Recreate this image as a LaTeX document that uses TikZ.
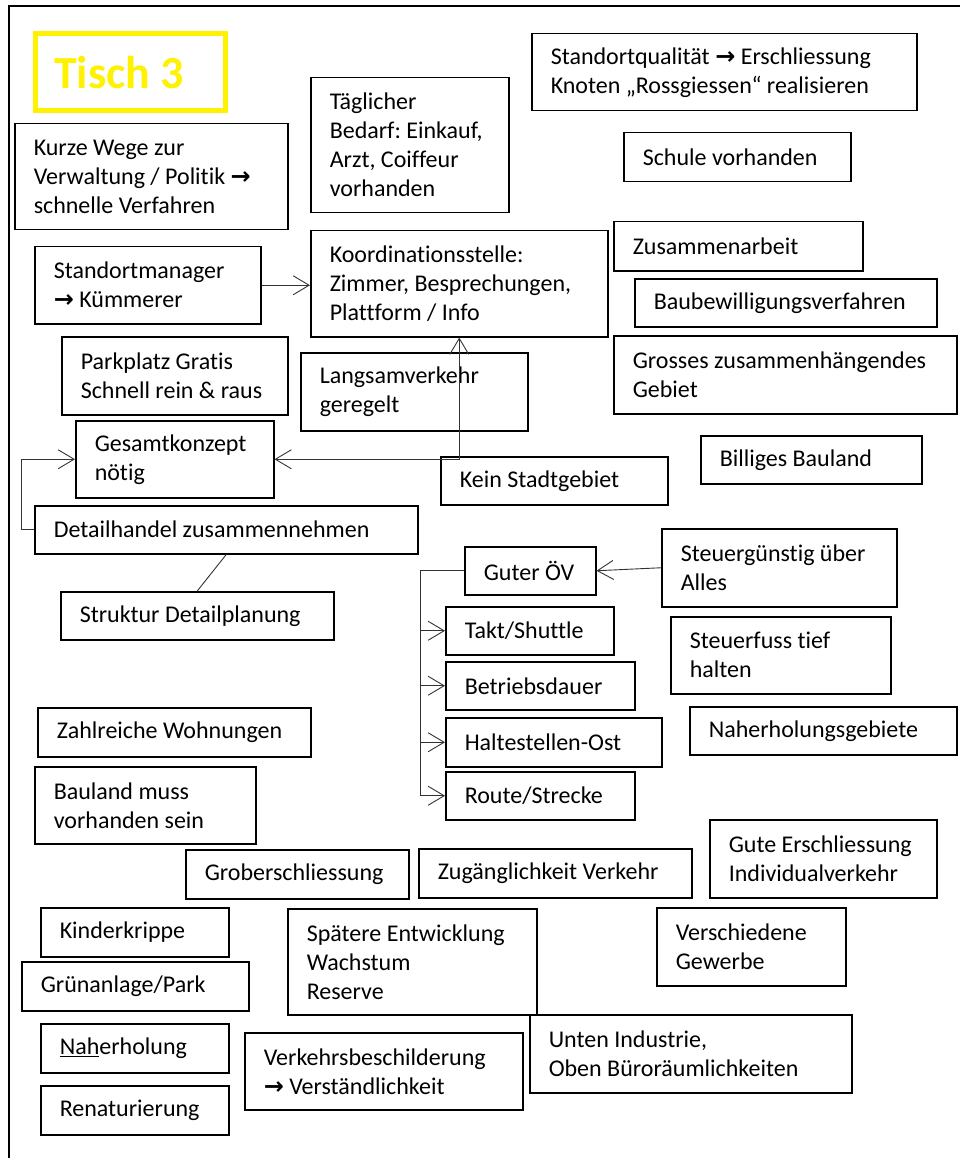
\documentclass[tikz,border=0pt]{standalone}
\usepackage{fontspec}
\setmainfont{Carlito}[Ligatures=NoCommon]
\newfontfamily\pfeilfont{DejaVu Sans}
\newcommand{\pfeil}{{\pfeilfont\bfseries\fontsize{24}{29}\selectfont →}}
\frenchspacing
\usepackage{tikz}
\usetikzlibrary{arrows.meta}

\begin{document}
\begin{tikzpicture}[x=1pt,y=-1pt,>={Straight Barb[length=16pt,width=19pt]}]
        \useasboundingbox (0,0) rectangle (960,1158);
        \draw[line width=2pt] (9,1158) -- (9,6) -- (960,6);
        \tikzstyle{every node}=[draw,rectangle,fill=white,line width=1.5pt,anchor=north west,inner xsep=19pt,inner ysep=0pt,align=left,font=\fontsize{24}{29}\selectfont,execute at begin node={\spaceskip=0pt\xspaceskip=0pt}]
        \tikzstyle{link}=[line width=0.9pt,black!80]
        \node[draw=yellow,line width=5pt,text=yellow,text width=152pt,minimum height=77pt,font=\fontsize{46}{50}\selectfont\bfseries] (1) at (32.5,31.5) {Tisch 3};
        \node[text width=235pt,minimum height=106pt] (2) at (14,123) {Kurze Wege zur\\Verwaltung / Politik \pfeil\\schnelle Verfahren};
        \node[text width=160pt,minimum height=135pt] (3) at (310,77) {Täglicher\\Bedarf: Einkauf,\\Arzt, Coiffeur\\vorhanden};
        \node[text width=188pt,minimum height=77pt] (4) at (34,246) {Standortmanager\\\pfeil{} Kümmerer};
        \node[text width=259pt,minimum height=106pt] (5) at (310,230) {Koordinationsstelle:\\Zimmer, Besprechungen,\\Plattform / Info};
        \node[text width=188pt,minimum height=78pt] (6) at (61,336) {Parkplatz Gratis\\Schnell rein \& raus};
        \node[text width=189pt,minimum height=78pt] (7) at (300,352) {Langsamverkehr\\geregelt};
        \node[text width=160pt,minimum height=77pt] (8) at (75,420) {Gesamtkonzept\\nötig};
        \node[text width=189pt,minimum height=48pt] (9) at (440,456) {Kein Stadtgebiet};
        \node[text width=345pt,minimum height=48pt] (10) at (34,505) {Detailhandel zusammennehmen};
        \node[text width=235pt,minimum height=48pt] (11) at (60,591) {Struktur Detailplanung};

        \node[text width=347pt,minimum height=77pt] (12) at (531,33) {Standortqualität \pfeil{} Erschliessung\\Knoten „Rossgiessen“ realisieren};
        \node[text width=189pt,minimum height=49pt] (13) at (623,132) {Schule vorhanden};
        \node[text width=211pt,minimum height=49pt] (14) at (613,221) {Zusammenarbeit};
        \node[text width=264pt,minimum height=48pt] (15) at (634,278) {Baubewilligungsverfahren};
        \node[text width=305pt,minimum height=78pt] (16) at (613,335) {Grosses zusammenhängendes\\Gebiet};
        \node[text width=183pt,minimum height=48pt] (17) at (700,435) {Billiges Bauland};

        \node[text width=93pt,minimum height=48pt] (18) at (464,546) {Guter ÖV};
        \node[text width=197pt,minimum height=78pt] (19) at (661,528) {Steuergünstig über\\Alles};
        \node[text width=130pt,minimum height=48pt] (20) at (445,606) {Takt/Shuttle};
        \node[text width=151pt,minimum height=48pt] (21) at (445,661) {Betriebsdauer};
        \node[text width=178pt,minimum height=49pt] (22) at (445,717) {Haltestellen-Ost};
        \node[text width=151pt,minimum height=48pt] (23) at (445,771) {Route/Strecke};
        \node[text width=182pt,minimum height=77pt] (24) at (670,616) {Steuerfuss tief\\halten};
        \node[text width=229pt,minimum height=48pt] (25) at (689,706) {Naherholungsgebiete};

        \node[text width=235pt,minimum height=49pt] (26) at (37,707) {Zahlreiche Wohnungen};
        \node[text width=183pt,minimum height=77pt] (27) at (34,766) {Bauland muss\\vorhanden sein};
        \node[text width=185pt,minimum height=49pt] (28) at (185,849) {Groberschliessung};
        \node[text width=235pt,minimum height=49pt] (29) at (418,848) {Zugänglichkeit Verkehr};
        \node[text width=189pt,minimum height=78pt] (30) at (709,819) {Gute Erschliessung\\Individualverkehr};
        \node[text width=150pt,minimum height=49pt] (31) at (40,907) {Kinderkrippe};
        \node[text width=211pt,minimum height=106pt] (32) at (287,908) {Spätere Entwicklung\\Wachstum\\Reserve};
        \node[text width=151pt,minimum height=78pt] (33) at (656,907) {Verschiedene\\Gewerbe};
        \node[text width=189pt,minimum height=49pt] (34) at (21,961) {Grünanlage/Park};
        \node[text width=150pt,minimum height=49pt] (35) at (40,1023) {\underline{Nah}erholung};
        \node[text width=150pt,minimum height=49pt] (36) at (40,1085) {Renaturierung};
        \node[text width=240pt,minimum height=77pt] (37) at (244,1032) {Verkehrsbeschilderung\\\pfeil{} Verständlichkeit};
        \node[text width=284pt,minimum height=78pt] (38) at (529,1014) {Unten Industrie,\\Oben Büroräumlichkeiten};

        \draw[link,->] (4.east) -- (4.east -| 5.west);
        \draw[link,<->] (8.east) -| (5.south);
        \draw[link,->] (10.west) -- ++(-13,0) |- (8.west);
        \draw[link] (10.south) -- (11.north);
        \draw[link,->] (19.west) -- (18.east);
        \foreach \n in {20,21,22,23}
            \draw[link,->] (18.west) -- ++(-44,0) |- (\n.west);
    \end{tikzpicture}
\end{document}
